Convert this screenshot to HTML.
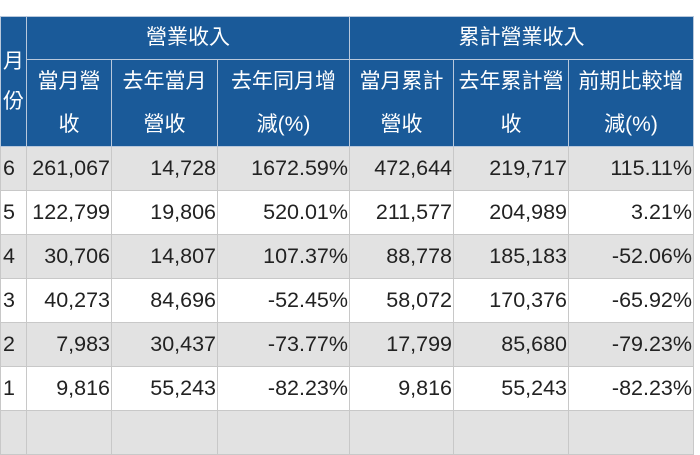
<!DOCTYPE html>
<html><head><meta charset="utf-8"><style>
body{margin:0;width:700px;height:416px;background:#fff;overflow:hidden;font-family:"Liberation Sans","Noto Sans CJK TC",sans-serif;}
table{position:absolute;left:0;top:16px;border-collapse:collapse;width:693px;table-layout:fixed;}
td,th{border:1px solid #c8c8c8;font-size:21.5px;padding:0 1px;white-space:nowrap;overflow:hidden;}
th{background:#1a5a99;color:#fff;font-weight:normal;line-height:43px;border-color:#b8c8dc;font-size:21px;}
td{height:43px;line-height:43px;text-align:right;color:#222;}
tr.g td{background:#e2e2e2;}
td.m{text-align:left;padding-left:2px;}
</style></head><body>
<table>
<colgroup><col style="width:26px"><col style="width:85px"><col style="width:106px"><col style="width:132px"><col style="width:104px"><col style="width:115px"><col style="width:125px"></colgroup>
<tr><th rowspan="2" style="line-height:40px;padding:0">月<br>份</th><th colspan="3" style="line-height:42px">營業收入</th><th colspan="3" style="line-height:42px">累計營業收入</th></tr>
<tr><th>當月營<br>收</th><th>去年當月<br>營收</th><th>去年同月增<br>減(%)</th><th>當月累計<br>營收</th><th>去年累計營<br>收</th><th>前期比較增<br>減(%)</th></tr>
<tr class="g"><td class="m">6</td><td>261,067</td><td>14,728</td><td>1672.59%</td><td>472,644</td><td>219,717</td><td>115.11%</td></tr>
<tr><td class="m">5</td><td>122,799</td><td>19,806</td><td>520.01%</td><td>211,577</td><td>204,989</td><td>3.21%</td></tr>
<tr class="g"><td class="m">4</td><td>30,706</td><td>14,807</td><td>107.37%</td><td>88,778</td><td>185,183</td><td>-52.06%</td></tr>
<tr><td class="m">3</td><td>40,273</td><td>84,696</td><td>-52.45%</td><td>58,072</td><td>170,376</td><td>-65.92%</td></tr>
<tr class="g"><td class="m">2</td><td>7,983</td><td>30,437</td><td>-73.77%</td><td>17,799</td><td>85,680</td><td>-79.23%</td></tr>
<tr><td class="m">1</td><td>9,816</td><td>55,243</td><td>-82.23%</td><td>9,816</td><td>55,243</td><td>-82.23%</td></tr>
<tr class="g"><td class="m">&nbsp;</td><td></td><td></td><td></td><td></td><td></td><td></td></tr>
</table>
</body></html>
